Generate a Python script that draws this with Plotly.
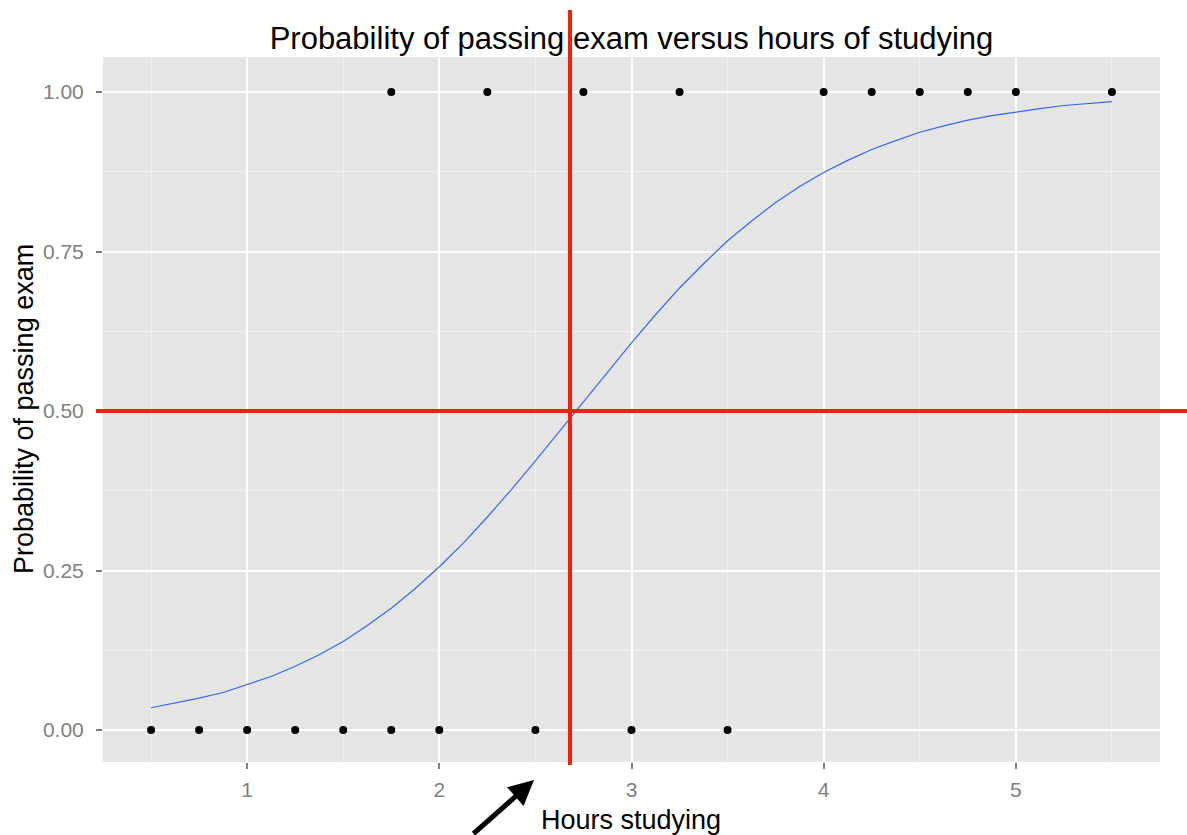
import plotly.graph_objects as go

# Observed data
hours = [0.50, 0.75, 1.00, 1.25, 1.50, 1.75, 1.75, 2.00, 2.25, 2.50,
         2.75, 3.00, 3.25, 3.50, 4.00, 4.25, 4.50, 4.75, 5.00, 5.50]
passed = [0, 0, 0, 0, 0, 0, 1, 0, 1, 0, 1, 0, 1, 0, 1, 1, 1, 1, 1, 1]

# Fitted curve
curve_x = [0.50, 0.625, 0.75, 0.875, 1.00, 1.125, 1.25, 1.375, 1.50, 1.625, 1.75, 1.875,
           2.00, 2.125, 2.25, 2.375, 2.50, 2.625, 2.75, 2.875, 3.00, 3.125, 3.25, 3.375,
           3.50, 3.625, 3.75, 3.875, 4.00, 4.125, 4.25, 4.375, 4.50, 4.625, 4.75, 4.875,
           5.00, 5.125, 5.25, 5.375, 5.50]
curve_y = [0.035, 0.042, 0.050, 0.059, 0.071, 0.084, 0.100, 0.118, 0.139, 0.164, 0.191, 0.222,
           0.256, 0.293, 0.334, 0.377, 0.422, 0.468, 0.515, 0.561, 0.607, 0.651, 0.693, 0.731,
           0.767, 0.798, 0.827, 0.852, 0.874, 0.893, 0.910, 0.924, 0.937, 0.947, 0.956, 0.963,
           0.969, 0.974, 0.979, 0.982, 0.985]

# Reference lines
cut_hours = 2.68
cut_prob = 0.5

x_ticks = [1, 2, 3, 4, 5]
x_minor = [0.5, 1.5, 2.5, 3.5, 4.5, 5.5]
y_ticks = [0.0, 0.25, 0.5, 0.75, 1.0]
y_tick_text = ["0.00", "0.25", "0.50", "0.75", "1.00"]
y_minor = [0.125, 0.375, 0.625, 0.875]

FONT = "Liberation Sans, Arial, sans-serif"

fig = go.Figure()
fig.add_trace(go.Scatter(x=curve_x, y=curve_y, mode="lines",
                         line=dict(color="#3366FF", width=1.2), showlegend=False))
fig.add_trace(go.Scatter(x=hours, y=passed, mode="markers",
                         marker=dict(color="black", size=8), showlegend=False))

L, R, T, B = 103, 27, 57, 73
W, H = 1187, 835
pw, ph = W - L - R, H - T - B

def px_x(px):
    return (px - L) / pw

def px_y(py):
    return (H - B - py) / ph

fig.add_shape(type="line", xref="x", yref="paper", x0=cut_hours, x1=cut_hours,
              y0=px_y(765), y1=px_y(10), line=dict(color="#EE2211", width=4))
fig.add_shape(type="line", xref="paper", yref="y", x0=px_x(96), x1=px_x(1187),
              y0=cut_prob, y1=cut_prob, line=dict(color="#EE2211", width=4))

fig.add_annotation(xref="paper", yref="paper", x=px_x(534), y=px_y(780),
                   ax=-62, ay=58, showarrow=True, arrowhead=2, arrowsize=1.0,
                   arrowwidth=5, arrowcolor="black", text="")

# Axis titles
fig.add_annotation(xref="paper", yref="paper", x=px_x(631), y=px_y(820),
                   xanchor="center", yanchor="middle", showarrow=False,
                   text="Hours studying", font=dict(family=FONT, size=27, color="black"))
fig.add_annotation(xref="paper", yref="paper", x=px_x(24), y=px_y(409),
                   xanchor="center", yanchor="middle", showarrow=False, textangle=-90,
                   text="Probability of passing exam", font=dict(family=FONT, size=27, color="black"))

axis_common = dict(ticks="outside", ticklen=6, tickwidth=1.5, tickcolor="#7F7F7F",
                   tickfont=dict(family=FONT, size=21, color="#7F7F7F"),
                   showgrid=True, gridcolor="white", gridwidth=1.6,
                   zeroline=False, showline=False)

fig.update_layout(
    width=W, height=H,
    margin=dict(l=L, r=R, t=T, b=B),
    paper_bgcolor="white",
    plot_bgcolor="#E5E5E5",
    title=dict(text="Probability of passing exam versus hours of studying",
               font=dict(family=FONT, size=31, color="black"),
               x=0.5, xref="paper", xanchor="center",
               y=1 - 38 / H, yref="container", yanchor="middle"),
    xaxis=dict(range=[0.25, 5.75], tickvals=x_ticks, ticklabelstandoff=3,
               minor=dict(tickvals=x_minor, showgrid=True, gridcolor="#F2F2F2",
                          gridwidth=0.8, ticklen=0),
               **axis_common),
    yaxis=dict(range=[-0.05, 1.055], tickvals=y_ticks, ticktext=y_tick_text,
               ticklabelstandoff=8,
               minor=dict(tickvals=y_minor, showgrid=True, gridcolor="#F2F2F2",
                          gridwidth=0.8, ticklen=0),
               **axis_common),
)

fig.write_html("out.html")
